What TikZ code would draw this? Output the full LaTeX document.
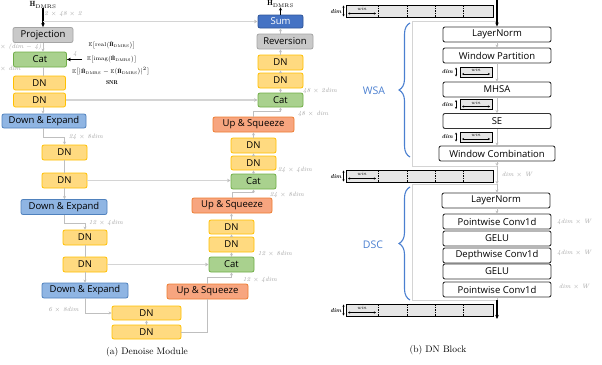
\documentclass[tikz,border=0pt]{standalone}
\usepackage{amsmath,amssymb}
\usepackage{fontspec}
\newfontfamily\boxfont{Open Sans}
\usetikzlibrary{arrows.meta,decorations.pathreplacing,calc}
\definecolor{gfill}{HTML}{C9C9C9}
\definecolor{gdraw}{HTML}{A5A5A5}
\definecolor{cfill}{HTML}{A9D18E}
\definecolor{cdraw}{HTML}{70AD47}
\definecolor{dfill}{HTML}{FFDA80}
\definecolor{ddraw}{HTML}{FFC000}
\definecolor{efill}{HTML}{8FB5E3}
\definecolor{edraw}{HTML}{4F81BD}
\definecolor{ufill}{HTML}{F7A57F}
\definecolor{udraw}{HTML}{ED7D31}
\definecolor{sfill}{HTML}{4472C4}
\definecolor{sdraw}{HTML}{2F5597}
\definecolor{lgray}{HTML}{BFBFBF}
\definecolor{sgray}{HTML}{D4D4D4}
\definecolor{lblgray}{HTML}{A0A0A0}
\definecolor{barfill}{HTML}{E6E6E6}
\definecolor{braceblue}{HTML}{4A7FD0}
\newcommand{\bigbar}[1]{%
  \draw[barbox] (346,#1) rectangle (493,#1+12);
  \foreach \xx in {378,407,435,463} \draw[line width=0.6pt, dash pattern=on 1.5pt off 1pt] (\xx,#1) -- (\xx,#1+12);
  \node[winlbl] at (362,#1+3.5) {win};
  \draw[dimarr] (348,#1+8.5) -- (376,#1+8.5);
  \node[dimtxt, anchor=east] at (341.5,#1+6.5) {dim};
  \draw[dimarr] (343.5,#1+0.5) -- (343.5,#1+11.5);
}
\newcommand{\smallbar}[1]{%
  \draw[barbox] (460,#1) rectangle (492,#1+10);
  \node[winlbl] at (476,#1+3) {win};
  \draw[dimarr] (462,#1+7) -- (490,#1+7);
  \node[dimtxt, anchor=east] at (453,#1+5) {dim};
  \draw[dimarr] (456,#1+0.5) -- (456,#1+9.5);
}
\newcommand{\Hh}{\hat{\mathbf{H}}_{\mathrm{DMRS}}}
\begin{document}
\begin{tikzpicture}[x=1pt,y=-1pt,
  blk/.style={draw, rounded corners=2pt, line width=0.8pt, inner sep=0pt,
    font=\boxfont\fontsize{9.5}{11}\selectfont, minimum height=15pt},
  graybox/.style={blk, fill=gfill, draw=gdraw},
  catbox/.style={blk, fill=cfill, draw=cdraw},
  dnbox/.style={blk, fill=dfill, draw=ddraw},
  debox/.style={blk, fill=efill, draw=edraw},
  usbox/.style={blk, fill=ufill, draw=udraw},
  sumbox/.style={blk, fill=sfill, draw=sdraw, text=white, minimum height=13pt},
  wbox/.style={blk, fill=white, draw=black!80, line width=0.9pt, minimum width=108pt},
  conn/.style={draw=lgray, line width=0.7pt, -{Stealth[length=3pt,width=3pt]}},
  plain/.style={draw=lgray, line width=0.7pt},
  skipc/.style={draw=sgray, line width=1.1pt, -{Stealth[length=3.5pt,width=3.5pt,color=lgray]}},
  frame/.style={draw=sgray, line width=1pt},
  blkarrow/.style={draw=black, line width=1.1pt, -{Stealth[length=4pt,width=3.5pt]}},
  lbl/.style={text=lblgray, font=\itshape\fontsize{6.2}{7}\selectfont, inner sep=0pt},
  mlbl/.style={font=\fontsize{5.6}{6.5}\selectfont, inner sep=0pt},
  barbox/.style={fill=barfill, draw=black, line width=0.8pt},
  winlbl/.style={font=\itshape\fontsize{5}{5.5}\selectfont, inner sep=0pt},
  dimtxt/.style={font=\bfseries\itshape\fontsize{5.8}{6.5}\selectfont, inner sep=0pt},
  dimarr/.style={draw=black, line width=0.6pt, {Stealth[length=2pt,width=2pt]}-{Stealth[length=2pt,width=2pt]}},
  bracest/.style={draw=braceblue, line width=1.1pt, decorate, decoration={brace, amplitude=11pt}},
  bluetxt/.style={text=braceblue, font=\boxfont\fontsize{10.5}{12}\selectfont, inner sep=0pt},
  captxt/.style={font=\fontsize{9.5}{11}\selectfont, inner sep=0pt}
]
\useasboundingbox (0,0) rectangle (602,364);

% ---------------- (a) Denoise Module ----------------
\node[inner sep=0pt, font=\fontsize{7.5}{9}\selectfont] (hin) at (43,5) {$\mathbf{H}_{\mathrm{DMRS}}$};
\node[graybox, minimum width=60pt] (proj) at (43,35) {Projection};
\node[catbox, minimum width=53pt] (cat0) at (40,59.5) {Cat};
\node[dnbox, minimum width=52pt, minimum height=14pt] (dn1) at (39.5,83) {DN};
\node[dnbox, minimum width=52pt, minimum height=14pt] (dn2) at (39.5,100) {DN};
\node[debox, minimum width=84pt, minimum height=14pt] (de1) at (44,121) {Down \& Expand};
\node[dnbox, minimum width=45pt] (dn3) at (64.5,152.5) {DN};
\node[dnbox, minimum width=45pt] (dn4) at (64.5,180.5) {DN};
\node[debox, minimum width=86pt] (de2) at (64,207) {Down \& Expand};
\node[dnbox, minimum width=44pt] (dn5) at (85,237.5) {DN};
\node[dnbox, minimum width=44pt] (dn6) at (85,264.5) {DN};
\node[debox, minimum width=86pt] (de3) at (85,290.5) {Down \& Expand};
\node[dnbox, minimum width=69pt, minimum height=14pt] (dn7) at (146.5,313) {DN};
\node[dnbox, minimum width=69pt, minimum height=14pt] (dn8) at (146.5,332) {DN};

\node[usbox, minimum width=81pt] (us3) at (207.5,291.5) {Up \& Squeeze};
\node[catbox, minimum width=45pt] (cat3) at (231.5,264.5) {Cat};
\node[dnbox, minimum width=45pt] (dn9) at (231.5,244.5) {DN};
\node[dnbox, minimum width=45pt, minimum height=14pt] (dn10) at (231.5,227) {DN};
\node[usbox, minimum width=80pt] (us2) at (232,205.5) {Up \& Squeeze};
\node[catbox, minimum width=45pt] (cat2) at (253.5,181.5) {Cat};
\node[dnbox, minimum width=45pt, minimum height=14pt] (dn11) at (253.5,163) {DN};
\node[dnbox, minimum width=45pt] (dn12) at (253.5,145.5) {DN};
\node[usbox, minimum width=81pt] (us1) at (253.5,124.5) {Up \& Squeeze};
\node[catbox, minimum width=45pt, minimum height=14pt] (cat1) at (280.5,100) {Cat};
\node[dnbox, minimum width=45pt] (dn13) at (280.5,80.5) {DN};
\node[dnbox, minimum width=45pt] (dn14) at (280.5,62.5) {DN};
\node[graybox, minimum width=56pt] (rev) at (285,41.5) {Reversion};
\node[sumbox, minimum width=45pt] (sum) at (280.5,21.5) {Sum};
\node[inner sep=0pt, font=\fontsize{7.5}{9}\selectfont] (hout) at (280.5,4) {$\mathbf{H}_{\mathrm{DMRS}}$};

% input / output
\draw[blkarrow] (hin.south) -- (proj.north);
\coordinate (split) at (43,21.5);
\draw[skipc] (split) -- (split -| sum.west);
\draw[draw=black, line width=1pt, -{Stealth[length=3pt,width=3pt]}] (sum.north) -- (hout.south);

% side inputs to Cat
\coordinate (ein) at (82,59.5);
\draw[blkarrow] (ein) -- (ein -| cat0.east);
\node[lbl] (four) at (75,54.5) {4};
\node[mlbl] (e1) at (112,45) {$\mathbb{E}\bigl[\mathrm{real}\bigl(\Hh\bigr)\bigr]$};
\node[mlbl] (e2) at (112,59) {$\mathbb{E}\bigl[\mathrm{imag}\bigl(\Hh\bigr)\bigr]$};
\node[mlbl] (e3) at (111,71.5) {$\mathbb{E}\bigl[\bigl|\Hh-\mathbb{E}\bigl(\Hh\bigr)\bigr|^2\bigr]$};
\node[mlbl] (snr) at (112,82.5) {$\mathbf{SNR}$};

% encoder path
\draw[conn] (proj.south) -- (proj.south |- cat0.north);
\draw[plain] (proj.south |- cat0.south) -- (proj.south |- dn1.north);
\draw[conn] (proj.south |- dn2.south) -- (proj.south |- de1.north);
\draw[conn] (proj.south |- de1.south) -- ++(0,9) -| (dn3.north);
\draw[plain] (dn3.south) -- (dn4.north);
\draw[conn] (dn4.south) -- (dn4.south |- de2.north);
\draw[conn] (de2.south) -- ++(0,8) -| (dn5.north);
\draw[plain] (dn5.south) -- (dn6.north);
\draw[conn] (dn6.south) -- (de3.north);
\draw[conn] (de3.south) |- (dn7.west);
\draw[conn] (dn8.north) -- (dn7.south);
\draw[plain] (dn8.east) -| (us3.south);

% decoder path
\draw[conn] (us3.north) -- ++(0,-6) -| (cat3.south);
\draw[conn] (cat3.north) -- (dn9.south);
\draw[conn] (dn9.north) -- (dn10.south);
\draw[conn] (dn10.north) -- (dn10.north |- us2.south);
\draw[conn] (us2.north) -- ++(0,-5) -| (cat2.south);
\draw[conn] (cat2.north) -- (dn11.south);
\draw[conn] (dn11.north) -- (dn12.south);
\draw[conn] (dn12.north) -- (us1.south);
\draw[conn] (us1.north) -- ++(0,-5) -| (cat1.south);
\draw[conn] (cat1.north) -- (dn13.south);
\draw[conn] (dn13.north) -- (dn14.south);
\draw[conn] (dn14.north) -- (dn14.north |- rev.south);
\draw[conn] (dn14.north |- rev.north) -- (sum.south);

% skip connections
\draw[skipc] (dn2.east) -- (dn2.east -| cat1.west);
\draw[skipc] (dn4.east) -- (dn4.east -| cat2.west);
\draw[skipc] (dn6.east) -- (cat3.west);

% size labels
\node[lbl] (l0) at (63,14) {2 $\times$ 48 $\times$ 2};
\node[lbl, anchor=west] (l1) at (0,47) {$\times$ (dim $-$ 4)};
\node[lbl, anchor=west] (l2) at (0,69) {$\times$ dim};
\node[lbl] (l3) at (86,137) {24 $\times$ 8dim};
\node[lbl] (l4) at (106,223) {12 $\times$ 4dim};
\node[lbl] (l5) at (63.5,310) {6 $\times$ 8dim};
\node[lbl] (l6) at (260,280) {12 $\times$ 4dim};
\node[lbl] (l7) at (275,254) {12 $\times$ 8dim};
\node[lbl] (l8) at (287,195) {24 $\times$ 8dim};
\node[lbl] (l9) at (295,170) {24 $\times$ 4dim};
\node[lbl] (l10) at (313,114) {48 $\times$ dim};
\node[lbl] (l11) at (320,91) {48 $\times$ 2dim};

\node[captxt] (capa) at (147,352) {(a) Denoise Module};

% ---------------- (b) DN Block ----------------
\bigbar{5}
\bigbar{170}
\bigbar{304}
\smallbar{67}
\smallbar{99.5}
\smallbar{132}

\coordinate (rtop) at (497,0);
\node[wbox] (ln1) at (497,34.5) {LayerNorm};
\node[wbox] (wp) at (497,55.5) {Window Partition};
\node[wbox] (mhsa) at (497,89.5) {MHSA};
\node[wbox] (se) at (497,121) {SE};
\node[wbox, minimum width=116pt] (wc) at (497,153.5) {Window Combination};

\node[wbox] (ln2) at (496,200.5) {LayerNorm};
\node[wbox] (pw1) at (497,221.5) {Pointwise Conv1d};
\node[wbox] (gelu1) at (497,238.5) {GELU};
\node[wbox] (dw) at (497,255.5) {Depthwise Conv1d};
\node[wbox] (gelu2) at (497,271.5) {GELU};
\node[wbox] (pw2) at (497,289.5) {Pointwise Conv1d};

\coordinate (wsaS) at (497,21);
\coordinate (wsaE) at (497,166);
\coordinate (dscS) at (497,184);
\coordinate (dscE) at (497,300);
\coordinate (rout) at (497,319);

\draw[frame] (wsaS) -- ++(-85,0) |- (wsaE);
\draw[frame] (dscS) -- ++(-85,0) |- (dscE);
\draw[blkarrow] (rtop) -- (ln1.north);
\draw[conn] (ln1.south) -- (wp.north);
\draw[conn] (wp.south) -- (mhsa.north);
\draw[conn] (mhsa.south) -- (se.north);
\draw[conn] (se.south) -- (wc.north);
\draw[conn] (wc.south) -- (wsaE);
\draw[conn] (wsaE) -- (dscS);
\draw[conn] (dscS) -- (ln2.north -| dscS);
\draw[conn] (ln2.south -| pw1.north) -- (pw1.north);
\draw[plain] (pw2.south) -- (dscE);
\draw[blkarrow] (dscE) -- (rout);

\draw[bracest] (410,157) -- (410,23);
\draw[bracest] (410,300) -- (410,187);
\node[bluetxt] (wsa) at (374,91) {WSA};
\node[bluetxt] (dsc) at (373,245) {DSC};

\node[lbl] (r1) at (517,175) {dim $\times$ W};
\node[lbl] (r2) at (574,222) {4dim $\times$ W};
\node[lbl] (r3) at (574,253) {4dim $\times$ W};
\node[lbl] (r4) at (574,287) {dim $\times$ W};

\node[captxt] (capb) at (438,350) {(b) DN Block};
\end{tikzpicture}
\end{document}
